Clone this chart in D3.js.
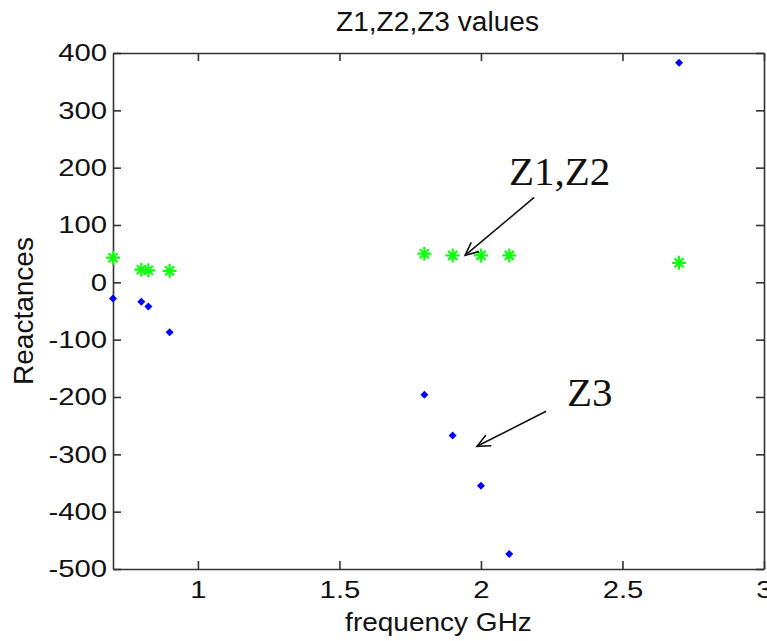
<!DOCTYPE html>
<html>
<head>
<meta charset="utf-8">
<script src="https://cdn.jsdelivr.net/npm/d3@7"></script>
<style>
  html, body { margin: 0; padding: 0; background: #fff; }
  svg { display: block; }
</style>
</head>
<body>
<svg id="chart"></svg>
<script>
// values
const frequency = [0.7, 0.8, 0.825, 0.9, 1.8, 1.9, 2.0, 2.1, 2.7];
const z12Values = [43, 22, 21, 20, 50, 47, 47, 47, 34];
const z3Values = [-28, -34, -42, -87, -196, -267, -355, -474, 383];

const xTicks = [1, 1.5, 2, 2.5, 3];
const yTicks = [-500, -400, -300, -200, -100, 0, 100, 200, 300, 400];

// annotation labels and arrows, in data units
const notes = [
  {label: 'Z1,Z2', tx: 2.099, ty: 169, x1: 2.188, y1: 148, x2: 1.944, y2: 47},
  {label: 'Z3', tx: 2.304, ty: -216, x1: 2.23, y1: -225, x2: 1.986, y2: -286}
];

const WIDTH = 767;
const HEIGHT = 641;
const MARGINS = {top: 53, right: 3, bottom: 72, left: 113};
const STRETCH = 1.22;
const SANS = '"Liberation Sans", Arial, sans-serif';
const SERIF = '"Liberation Serif", "Times New Roman", serif';

const svg = d3.select('#chart')
  .attr('width', WIDTH)
  .attr('height', HEIGHT)
  .style('font-family', SANS);

const x = d3.scaleLinear().domain([0.7, 3]).range([MARGINS.left, WIDTH - MARGINS.right]);
const y = d3.scaleLinear().domain([-500, 400]).range([HEIGHT - MARGINS.bottom, MARGINS.top]);

// matlab style text is drawn wider than the font
function widen(sel, k) {
  sel.each(function() {
    const w = this.getComputedTextLength();
    d3.select(this).attr('textLength', w * k).attr('lengthAdjust', 'spacingAndGlyphs');
  });
}

const axisColor = '#333';

// box with inward ticks on every side
function styleAxis(g) {
  g.select('.domain').attr('stroke', axisColor).attr('stroke-width', 1.6);
  g.selectAll('.tick line').attr('stroke', axisColor).attr('stroke-width', 1.6);
}

const plain = d => String(d);

const bottom = svg.append('g')
  .attr('transform', `translate(0,${y.range()[0]})`)
  .call(d3.axisBottom(x).tickValues(xTicks).tickFormat(plain).tickSizeInner(-8).tickSizeOuter(0).tickPadding(12));
styleAxis(bottom);
bottom.selectAll('.tick text')
  .attr('font-size', 24).attr('fill', '#111')
  .style('font-family', SANS)
  .call(widen, STRETCH);

svg.append('g')
  .attr('transform', `translate(0,${y.range()[1]})`)
  .call(d3.axisTop(x).tickValues(xTicks).tickFormat('').tickSizeInner(-8).tickSizeOuter(0))
  .call(styleAxis);

const left = svg.append('g')
  .attr('transform', `translate(${x.range()[0]},0)`)
  .call(d3.axisLeft(y).tickValues(yTicks).tickFormat(plain).tickSizeInner(-8).tickSizeOuter(0).tickPadding(6));
styleAxis(left);
left.selectAll('.tick text')
  .attr('font-size', 24).attr('fill', '#111')
  .style('font-family', SANS)
  .call(widen, STRETCH);

svg.append('g')
  .attr('transform', `translate(${x.range()[1]},0)`)
  .call(d3.axisRight(y).tickValues(yTicks).tickFormat('').tickSizeInner(-8).tickSizeOuter(0))
  .call(styleAxis);

// title and axis labels
svg.append('text')
  .attr('x', (x.range()[0] + x.range()[1]) / 2 - 1)
  .attr('y', 31)
  .attr('text-anchor', 'middle')
  .attr('font-size', 27)
  .attr('fill', '#111')
  .text('Z1,Z2,Z3 values')
  .call(widen, 1.04);

svg.append('text')
  .attr('x', (x.range()[0] + x.range()[1]) / 2)
  .attr('y', 631)
  .attr('text-anchor', 'middle')
  .attr('font-size', 25)
  .attr('fill', '#111')
  .text('frequency GHz')
  .call(widen, 1.12);

svg.append('text')
  .attr('transform', `translate(33,${(y.range()[0] + y.range()[1]) / 2}) rotate(-90)`)
  .attr('text-anchor', 'middle')
  .attr('font-size', 28)
  .attr('fill', '#111')
  .text('Reactances');

const points = frequency.map((f, i) => ({f: f, z12: z12Values[i], z3: z3Values[i]}));

// Z3: small blue diamonds
svg.append('g')
  .selectAll('path')
  .data(points)
  .join('path')
  .attr('transform', d => `translate(${x(d.f)},${y(d.z3)})`)
  .attr('d', 'M0,-4L4,0L0,4L-4,0Z')
  .attr('fill', '#0000ff');

// Z1,Z2: green asterisks
svg.append('g')
  .selectAll('path')
  .data(points)
  .join('path')
  .attr('transform', d => `translate(${x(d.f)},${y(d.z12)})`)
  .attr('d', 'M-7,0H7M0,-7V7M-4.5,-4.5L4.5,4.5M-4.5,4.5L4.5,-4.5')
  .attr('stroke', '#11ff11')
  .attr('stroke-width', 2.2)
  .attr('fill', 'none');

// arrows and labels
svg.append('defs').append('marker')
  .attr('id', 'head')
  .attr('viewBox', '-14 -8 16 16')
  .attr('refX', 0).attr('refY', 0)
  .attr('markerWidth', 16).attr('markerHeight', 16)
  .attr('markerUnits', 'userSpaceOnUse')
  .attr('orient', 'auto')
  .append('path')
  .attr('d', 'M-13,-6L0,0L-13,6')
  .attr('fill', 'none')
  .attr('stroke', '#111')
  .attr('stroke-width', 1.6);

const note = svg.append('g').selectAll('g').data(notes).join('g');
note.append('line')
  .attr('x1', d => x(d.x1)).attr('y1', d => y(d.y1))
  .attr('x2', d => x(d.x2)).attr('y2', d => y(d.y2))
  .attr('stroke', '#111')
  .attr('stroke-width', 1.6)
  .attr('marker-end', 'url(#head)');
note.append('text')
  .attr('x', d => x(d.tx)).attr('y', d => y(d.ty))
  .style('font-family', SERIF)
  .attr('font-size', 41)
  .attr('fill', '#111')
  .text(d => d.label);
</script>
</body>
</html>
